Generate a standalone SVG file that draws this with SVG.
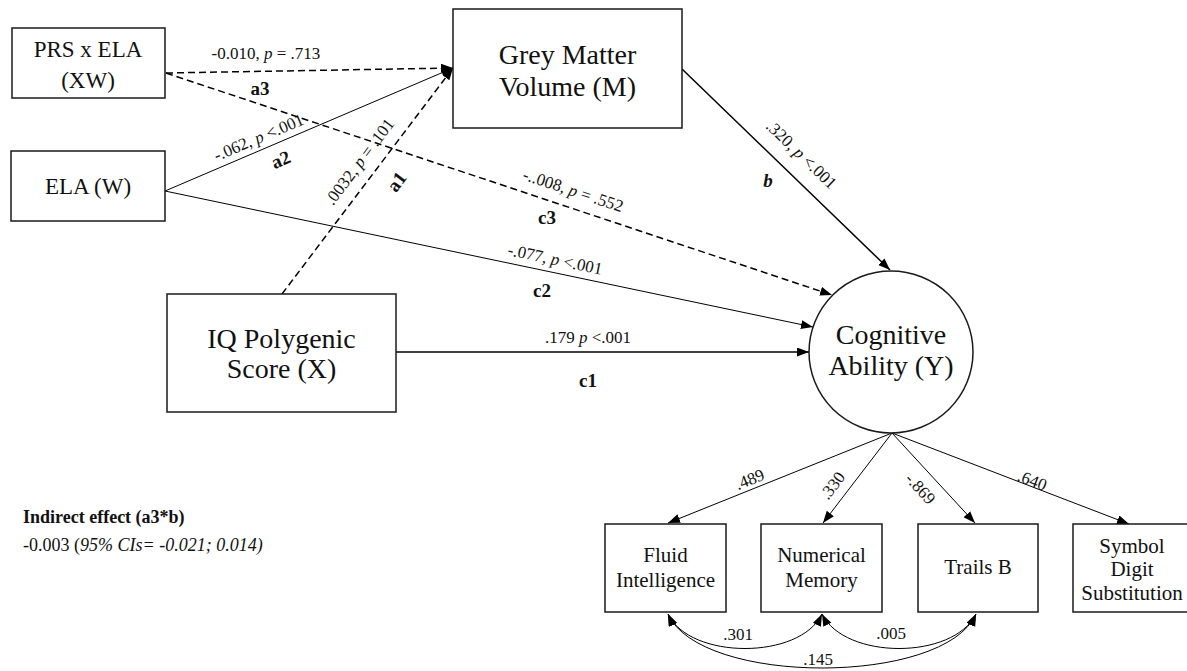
<svg xmlns="http://www.w3.org/2000/svg" width="1187" height="671" viewBox="0 0 1187 671">
  <defs>
    <marker id="arrow" markerUnits="userSpaceOnUse" markerWidth="13" markerHeight="10" refX="12" refY="4.5" orient="auto-start-reverse">
      <path d="M0,0 L12,4.5 L0,9 Z" fill="#000"/>
    </marker>
    <style>
      .box { fill: #fff; stroke: #1a1a1a; stroke-width: 1.5; }
      .lbl { font-family: "Liberation Serif", "Times New Roman", serif; fill: #111; text-anchor: middle; }
      .big { font-size: 28px; }
      .mid { font-size: 23px; }
      .small { font-size: 21px; }
      .edge { font-family: "Liberation Serif", "Times New Roman", serif; font-size: 17px; fill: #111; text-anchor: middle; }
      .tag { font-family: "Liberation Serif", "Times New Roman", serif; font-size: 19px; font-weight: bold; fill: #111; text-anchor: middle; }
      .solid { fill: none; stroke: #000; stroke-width: 1; }
      .thick { fill: none; stroke: #000; stroke-width: 1.5; }
      .dash { fill: none; stroke: #000; stroke-width: 1.5; stroke-dasharray: 7 4; }
      .cov { fill: none; stroke: #000; stroke-width: 1; }
      .note { font-family: "Liberation Serif", "Times New Roman", serif; font-size: 18px; fill: #111; }
    </style>
  </defs>

  <rect width="1187" height="671" fill="#fff"/>

  <!-- paths between constructs -->
  <g id="connectors">
    <path class="dash" d="M166,73 L453,68" marker-end="url(#arrow)"/>
    <path class="solid" d="M165,191 L453,68" marker-end="url(#arrow)"/>
    <path class="dash" d="M282,294 L453,68" marker-end="url(#arrow)"/>
    <path class="dash" d="M166,73 L832,295" marker-end="url(#arrow)"/>
    <path class="solid" d="M165,191 L813,327" marker-end="url(#arrow)"/>
    <path class="thick" d="M396,352 L809,352" marker-end="url(#arrow)"/>
    <path class="thick" d="M682,69 L890,270" marker-end="url(#arrow)"/>
    <!-- factor loadings -->
    <path class="solid" d="M892,433 L668,523" marker-end="url(#arrow)"/>
    <path class="solid" d="M892,433 L823,523" marker-end="url(#arrow)"/>
    <path class="solid" d="M892,433 L975,523" marker-end="url(#arrow)"/>
    <path class="solid" d="M892,433 L1129,524" marker-end="url(#arrow)"/>
    <!-- residual covariances -->
    <path class="cov" d="M668,614 C690,660 800,660 822,614" marker-start="url(#arrow)" marker-end="url(#arrow)"/>
    <path class="cov" d="M822,614 C845,660 953,660 976,614" marker-start="url(#arrow)" marker-end="url(#arrow)"/>
    <path class="cov" d="M668,614 C700,686 944,686 976,614" marker-start="url(#arrow)" marker-end="url(#arrow)"/>

    <!-- path coefficients -->
    <text class="edge" x="266" y="59">-0.010, <tspan font-style="italic">p</tspan> = .713</text>
    <text class="tag" x="260" y="95">a3</text>
    <text class="edge" transform="translate(259,138) rotate(-23)" y="5">-.062, <tspan font-style="italic">p</tspan> &lt;.001</text>
    <text class="tag" transform="translate(281,160) rotate(-23)" y="6">a2</text>
    <text class="edge" transform="translate(360,162) rotate(-53)" y="5">.0032, <tspan font-style="italic">p</tspan> = .101</text>
    <text class="tag" transform="translate(397,182) rotate(-53)" y="6">a1</text>
    <text class="edge" transform="translate(573,191) rotate(18.4)" y="5">-..008,  <tspan font-style="italic">p</tspan> = .552</text>
    <text class="tag" x="547" y="224">c3</text>
    <text class="edge" transform="translate(555,260) rotate(11.85)" y="5">-.077, <tspan font-style="italic">p</tspan> &lt;.001</text>
    <text class="tag" x="542" y="297">c2</text>
    <text class="edge" x="588" y="343">.179 <tspan font-style="italic">p</tspan> &lt;.001</text>
    <text class="tag" x="588" y="387">c1</text>
    <text class="edge" transform="translate(801,155) rotate(44)" y="5">.320, <tspan font-style="italic">p</tspan> &lt;.001</text>
    <text class="tag" x="768" y="187" font-style="italic">b</text>
    <text class="edge" transform="translate(750,480) rotate(-22)" y="5">.489</text>
    <text class="edge" transform="translate(833,486) rotate(-52.5)" y="5">.330</text>
    <text class="edge" transform="translate(920,489) rotate(47.3)" y="5">-.869</text>
    <text class="edge" transform="translate(1032,481) rotate(21)" y="5">.640</text>
    <text class="edge" x="738" y="640">.301</text>
    <text class="edge" x="891" y="639">.005</text>
    <text class="edge" x="818" y="665">.145</text>
  </g>

  <g id="node-xw">
    <rect class="box" x="12" y="28" width="153" height="70"/>
    <text class="lbl mid" x="88" y="57">PRS x ELA</text>
    <text class="lbl mid" x="88" y="88">(XW)</text>
  </g>

  <g id="node-w">
    <rect class="box" x="11" y="151" width="154" height="70"/>
    <text class="lbl mid" x="88" y="194">ELA (W)</text>
  </g>

  <g id="node-m">
    <rect class="box" x="453" y="9" width="229" height="119"/>
    <text class="lbl big" x="567.5" y="64">Grey Matter</text>
    <text class="lbl big" x="567.5" y="96">Volume (M)</text>
  </g>

  <g id="node-x">
    <rect class="box" x="167" y="294" width="229" height="118"/>
    <text class="lbl big" x="281.5" y="348">IQ Polygenic</text>
    <text class="lbl big" x="281.5" y="378">Score (X)</text>
  </g>

  <g id="node-y">
    <ellipse cx="891" cy="352" rx="82" ry="81" fill="#fff" stroke="#1a1a1a" stroke-width="1.5"/>
    <text class="lbl big" x="891" y="344">Cognitive</text>
    <text class="lbl big" x="891" y="375">Ability (Y)</text>
  </g>

  <g id="node-fluid">
    <rect class="box" x="605" y="524" width="121" height="88"/>
    <text class="lbl small" x="665.5" y="562">Fluid</text>
    <text class="lbl small" x="665.5" y="587">Intelligence</text>
  </g>

  <g id="node-numerical">
    <rect class="box" x="761" y="524" width="121" height="88"/>
    <text class="lbl small" x="821.5" y="562">Numerical</text>
    <text class="lbl small" x="821.5" y="587">Memory</text>
  </g>

  <g id="node-trails">
    <rect class="box" x="918" y="524" width="120" height="88"/>
    <text class="lbl small" x="978" y="574">Trails B</text>
  </g>

  <g id="node-symbol">
    <rect class="box" x="1073" y="524" width="121" height="88"/>
    <text class="lbl small" x="1132" y="553">Symbol</text>
    <text class="lbl small" x="1132" y="576">Digit</text>
    <text class="lbl small" x="1132" y="600">Substitution</text>
  </g>

  <g id="indirect-effect">
    <text class="note" x="23" y="523" font-weight="bold">Indirect effect (a3*b)</text>
    <text class="note" x="23" y="551">-0.003 (<tspan font-style="italic">95% CIs= -0.021; 0.014)</tspan></text>
  </g>
</svg>
